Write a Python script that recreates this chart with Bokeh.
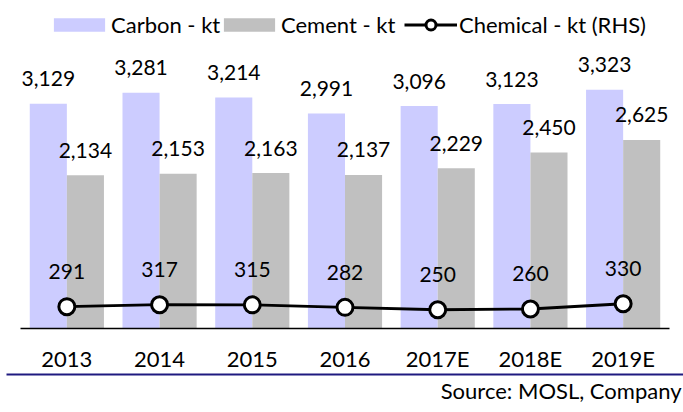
from bokeh.plotting import figure
from bokeh.models import (FactorRange, Range1d, Legend, LegendItem, Title, CategoricalAxis,
                          ColumnDataSource)
from bokeh.transform import dodge
from bokeh.core.properties import value
from bokeh.embed import file_html
from bokeh.resources import INLINE

years = ["2013", "2014", "2015", "2016", "2017E", "2018E", "2019E"]
carbon = [3129, 3281, 3214, 2991, 3096, 3123, 3323]
cement = [2134, 2153, 2163, 2137, 2229, 2450, 2625]
chemical = [291, 317, 315, 282, 250, 260, 330]

FONT = "Lato"
FS = "21px"
FS2 = "22px"

src = ColumnDataSource(dict(
    years=years, carbon=carbon, cement=cement, chemical=chemical,
    carbon_lbl=[f"{v:,}" for v in carbon],
    cement_lbl=[f"{v:,}" for v in cement],
    chem_lbl=[f"{v:,}" for v in chemical],
))

p = figure(x_range=FactorRange(*years, range_padding=0.151, range_padding_units="absolute"),
           y_range=Range1d(0, 4565),
           width=683, height=412, output_backend="svg", toolbar_location=None,
           y_axis_location=None, min_border_left=6, min_border_right=0,
           min_border_top=0, min_border_bottom=84)
p.extra_y_ranges = {"chem": Range1d(0, 4373)}
p.outline_line_color = None
p.xgrid.grid_line_color = None
p.ygrid.grid_line_color = None

r_carbon = p.vbar(x=dodge("years", -0.2, range=p.x_range), top="carbon", width=0.4,
                  source=src, fill_color="#CCCCFF", line_color=None)
r_cement = p.vbar(x=dodge("years", 0.2, range=p.x_range), top="cement", width=0.4,
                  source=src, fill_color="#C0C0C0", line_color=None)

p.text(x=dodge("years", -0.2, range=p.x_range), y="carbon", text="carbon_lbl", source=src,
       text_align="center", text_baseline="middle", y_offset=-25,
       text_font=value(FONT), text_font_size=FS, text_color="black")
p.text(x=dodge("years", 0.2, range=p.x_range), y="cement", text="cement_lbl", source=src,
       text_align="center", text_baseline="middle", y_offset=-25,
       text_font=value(FONT), text_font_size=FS, text_color="black")

r_line = p.line(x="years", y="chemical", source=src, y_range_name="chem",
                line_color="black", line_width=2.8)
r_pts = p.scatter(x="years", y="chemical", source=src, y_range_name="chem",
                  marker="circle", size=16, fill_color="white", line_color="black",
                  line_width=3)
p.text(x="years", y="chemical", text="chem_lbl", source=src, y_range_name="chem",
       text_align="center", text_baseline="middle", y_offset=-35,
       text_font=value(FONT), text_font_size=FS, text_color="black")

ax = p.xaxis[0]
ax.bounds = (0, len(years))
ax.axis_line_color = "black"
ax.axis_line_width = 1.5
ax.major_tick_line_color = None
ax.minor_tick_line_color = None
ax.major_tick_out = 0
ax.major_tick_in = 0
ax.major_label_standoff = 16
ax.major_label_text_font = FONT
ax.major_label_text_font_size = FS2
ax.major_label_text_color = "black"

blank = {y: " " for y in years}

# navy rule across the full width, just under the category labels
rule = CategoricalAxis(axis_line_color="#1F1A80", axis_line_width=2,
                       major_tick_line_color=None, minor_tick_line_color=None,
                       major_tick_out=0, major_tick_in=0,
                       major_label_standoff=0, major_label_overrides=blank,
                       major_label_text_font_size="1px", major_label_text_color=None)
p.add_layout(rule, "below")

p.add_layout(Title(text="Source: MOSL, Company", align="right", offset=2, standoff=0,
                   text_font=FONT, text_font_size=FS2, text_font_style="normal",
                   text_color="black"), "below")

def make_legend(items, x, gw, gh, standoff):
    lg = Legend(items=items, location=(x, 290), orientation="horizontal",
                padding=0, margin=0, spacing=0, label_standoff=standoff,
                glyph_width=gw, glyph_height=gh, label_height=25,
                border_line_color=None, background_fill_alpha=0,
                label_text_font=FONT, label_text_font_size=FS2, label_text_color="black")
    p.add_layout(lg, "center")

make_legend([LegendItem(label="Carbon - kt", renderers=[r_carbon])], 41, 64, 17, 0)
make_legend([LegendItem(label="Cement - kt", renderers=[r_cement])], 211, 64, 17, 0)
make_legend([LegendItem(label="Chemical - kt (RHS)", renderers=[r_line, r_pts])], 398, 53, 25, 2)

open("out.html", "w").write(file_html(p, INLINE))
